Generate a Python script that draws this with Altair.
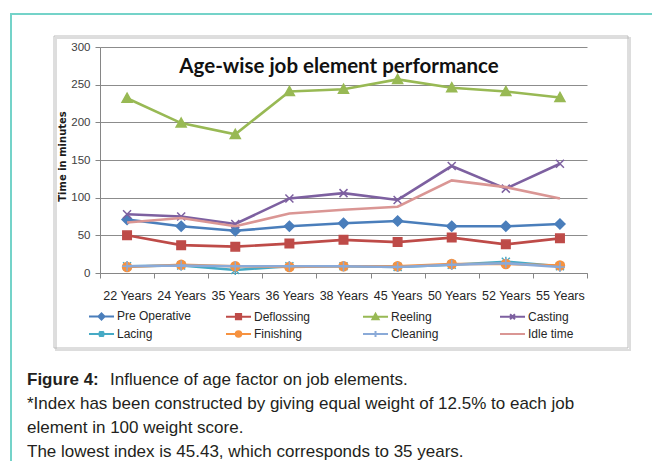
import altair as alt
import pandas as pd

ages = ["22 Years", "24 Years", "35 Years", "36 Years", "38 Years",
        "45 Years", "50 Years", "52 Years", "55 Years"]
series = ["Pre Operative", "Deflossing", "Reeling", "Casting",
          "Lacing", "Finishing", "Cleaning", "Idle time"]

pre_operative = [71, 62, 56, 62, 66, 69, 62, 62, 65]
deflossing = [50, 37, 35, 39, 44, 41, 47, 38, 46]
reeling = [232, 199, 184, 241, 244, 257, 246, 241, 233]
casting = [78, 75, 65, 99, 106, 97, 142, 112, 145]
lacing = [9, 10, 4, 9, 9, 8, 11, 15, 9]
finishing = [8, 11, 9, 8, 9, 9, 12, 12, 10]
cleaning = [9, 10, 9, 9, 9, 8, 11, 13, 8]
idle_time = [67, 73, 62, 79, 84, 88, 123, 114, 99]

values = [pre_operative, deflossing, reeling, casting,
          lacing, finishing, cleaning, idle_time]
colors = ["#4A7EBB", "#BE4B48", "#98B954", "#7D60A0",
          "#46AAC5", "#F69240", "#8AAAD8", "#DA9694"]
markers = ["diamond", "square", "triangle", "x", "asterisk", "circle", "plus", "none"]

title_text = "Age-wise job element performance"
y_title = "Time in minutes"
caption_bold = "Figure 4:"
caption_lines = [
    "Influence of age factor on job elements.",
    "*Index has been constructed by giving equal weight of 12.5% to each job",
    "element in 100 weight score.",
    "The lowest index is 45.43, which corresponds to 35 years.",
]

rows = []
for s, vals in zip(series, values):
    for a, v in zip(ages, vals):
        rows.append({"age": a, "series": s, "value": v})
df = pd.DataFrame(rows)


def fmt(v):
    return f"{v:.3f}".rstrip("0").rstrip(".")


def marker_path(kind, cx=0.0, s=1.0):
    def P(x, y):
        return f"{fmt(cx + s * x)},{fmt(s * y)}"
    if kind == "diamond":
        return f"M{P(0,-1)}L{P(1,0)}L{P(0,1)}L{P(-1,0)}Z"
    if kind == "square":
        k = 0.85
        return f"M{P(-k,-k)}L{P(k,-k)}L{P(k,k)}L{P(-k,k)}Z"
    if kind == "triangle":
        return f"M{P(0,-1)}L{P(1,0.8)}L{P(-1,0.8)}Z"
    if kind == "x":
        k = 0.8
        return f"M{P(-k,-k)}L{P(k,k)}M{P(-k,k)}L{P(k,-k)}"
    if kind == "asterisk":
        k = 0.8
        return f"M{P(-k,-k)}L{P(k,k)}M{P(-k,k)}L{P(k,-k)}M{P(0,-1)}L{P(0,1)}"
    if kind == "circle":
        r = 0.9
        return (f"M{P(-r,0)}A{fmt(s*r)},{fmt(s*r)} 0 1,0 {P(r,0)}"
                f"A{fmt(s*r)},{fmt(s*r)} 0 1,0 {P(-r,0)}Z")
    if kind == "plus":
        return f"M{P(-1,0)}L{P(1,0)}M{P(0,-1)}L{P(0,1)}"
    return ""


legend_shapes = ["M-1,0L1.78,0" + marker_path(m, cx=0.39, s=0.34) for m in markers]

axis_font = "Liberation Sans Narrow, Arial Narrow, Liberation Sans, sans-serif"

x_enc = alt.X("age:O", sort=ages, bandPosition=0.5,
              scale=alt.Scale(type="band", domain=ages, paddingInner=0, paddingOuter=0),
              axis=alt.Axis(title=None, labelAngle=0, tickBand="extent", tickSize=5,
                            labelPadding=11, labelFont=axis_font, labelFontSize=12.5,
                            labelColor="#262626", domainColor="#868686",
                            tickColor="#868686", grid=False))
y_enc = alt.Y("value:Q",
              scale=alt.Scale(domain=[0, 300], nice=False),
              axis=alt.Axis(values=[0, 50, 100, 150, 200, 250, 300], title=y_title,
                            titleX=-38, titleY=109, titleAngle=270, titleAlign="center",
                            titleBaseline="middle", titleFont="DejaVu Sans",
                            titleFontSize=10, titleFontWeight="bold", titleColor="#1a1a1a",
                            labelFont=axis_font, labelFontSize=11.5, labelColor="#404040",
                            labelPadding=5, tickSize=5, tickColor="#868686",
                            domainColor="#868686", gridColor="#8C8C8C", gridWidth=1))

frame_df = pd.DataFrame({"k": [0]})

teal_frame = alt.Chart(frame_df).mark_rect(
    fillOpacity=0, stroke="#74D3C9", strokeWidth=2
).encode(x=alt.value(-89), y=alt.value(-33), x2=alt.value(700), y2=alt.value(700))

shadow_box = alt.Chart(frame_df).mark_rect(
    fillOpacity=0, stroke="#DDDDDD", strokeWidth=2
).encode(x=alt.value(-44), y=alt.value(-9), x2=alt.value(530), y2=alt.value(303))

chart_box = alt.Chart(frame_df).mark_rect(
    fillOpacity=0, stroke="#BDBDBD", strokeWidth=1
).encode(x=alt.value(-46), y=alt.value(-11), x2=alt.value(528), y2=alt.value(301))

series_layers = []
for s, m, c in zip(series, markers, colors):
    base = alt.Chart(df).transform_filter(alt.datum.series == s)
    series_layers.append(
        base.mark_line(strokeWidth=2.6, color=c).encode(x=x_enc, y=y_enc)
    )
    if m != "none":
        series_layers.append(
            base.mark_point(
                shape=marker_path(m), filled=True, fill=c, stroke=c, strokeWidth=1.5,
                size=100, opacity=1
            ).encode(x=x_enc, y=y_enc)
        )

# legend-only layer: its points are pushed outside the plot and clipped away
legend_layer = alt.Chart(df).transform_calculate(value="-1000").mark_point(
    filled=True, opacity=1, strokeWidth=2, clip=True
).encode(
    x=x_enc, y=y_enc,
    fill=alt.Fill("series:N", scale=alt.Scale(domain=series, range=colors), legend=alt.Legend(
        title=None, orient="none", legendX=-12, legendY=259, columns=4, direction="horizontal",
        gridAlign="all", columnPadding=30, rowPadding=0, symbolSize=324,
        symbolStrokeWidth=2, labelOffset=9, labelFont=axis_font, labelFontSize=12,
        labelColor="#262626")),
    stroke=alt.Stroke("series:N", scale=alt.Scale(domain=series, range=colors)),
    shape=alt.Shape("series:N", scale=alt.Scale(domain=series, range=legend_shapes)),
)

title_df = pd.DataFrame({"t": [title_text]})
title_layer = alt.Chart(title_df).mark_text(
    font="Lato", fontSize=20.5, fontWeight="bold", color="#111111",
    align="center", baseline="alphabetic"
).encode(x=alt.value(239), y=alt.value(26), text="t:N")

cap_layers = [
    alt.Chart(pd.DataFrame({"t": [caption_bold]})).mark_text(
        font="Liberation Sans", fontSize=17, fontWeight="bold", color="#231F20",
        align="left", baseline="alphabetic"
    ).encode(x=alt.value(-73), y=alt.value(338), text="t:N")
]
cap_x = [-73 + 83, -73, -73, -73]
cap_y = [338, 362, 386, 410]
for line, cx, cy in zip(caption_lines, cap_x, cap_y):
    cap_layers.append(
        alt.Chart(pd.DataFrame({"t": [line]})).mark_text(
            font="Liberation Sans", fontSize=17, color="#231F20",
            align="left", baseline="alphabetic"
        ).encode(x=alt.value(cx), y=alt.value(cy), text="t:N")
    )

chart = alt.layer(
    teal_frame, shadow_box, chart_box, *series_layers, legend_layer,
    title_layer, *cap_layers
).properties(
    width=487, height=226,
    autosize=alt.AutoSizeParams(type="none"),
    padding={"left": 92, "top": 39, "right": 65, "bottom": 188},
    background="white",
).configure_view(stroke=None)

chart.save("out.html", embed_options={"renderer": "svg", "actions": False})
